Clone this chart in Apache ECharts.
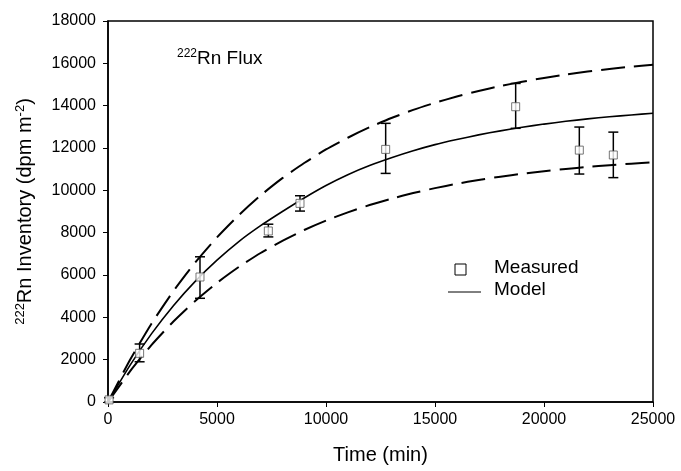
<!DOCTYPE html>
<html>
<head>
<meta charset="utf-8">
<script src="https://cdn.jsdelivr.net/npm/echarts@6/dist/echarts.min.js"></script>
<style>html,body{margin:0;padding:0;background:#fff;}#c{width:681px;height:471px;}</style>
</head>
<body>
<div id="c"></div>
<script>
// Measured data (time in min, inventory in dpm m^-2)
const measTime = [50, 1450, 4220, 7355, 8807, 12737, 18700, 21620, 23180];
const measValue = [100, 2300, 5905, 8080, 9385, 11935, 13950, 11900, 11670];
const measErrLow = [0, 1900, 4900, 7800, 9020, 10800, 12930, 10770, 10600];
const measErrHigh = [200, 2740, 6860, 8400, 9745, 13165, 15050, 12990, 12750];

// Model curves
const modelTime = [0, 1000, 2000, 3000, 4000, 5000, 6000, 7000, 8000, 9000, 10000, 11000, 12000, 13000,
  14000, 15000, 16000, 17000, 18000, 19000, 20000, 21000, 22000, 23000, 24000, 25000];
const modelMid = [0, 1720, 3230, 4550, 5700, 6700, 7580, 8330, 9000, 9640, 10230, 10740, 11170, 11540,
  11870, 12160, 12400, 12620, 12810, 12980, 13130, 13260, 13375, 13475, 13560, 13640];
const modelUpper = [0, 1970, 3710, 5240, 6590, 7780, 8830, 9760, 10575, 11290, 11930, 12485, 12980, 13415,
  13800, 14135, 14430, 14695, 14925, 15130, 15310, 15470, 15610, 15730, 15840, 15935];
const modelLower = [0, 1435, 2700, 3805, 4775, 5630, 6380, 7040, 7615, 8125, 8570, 8960, 9305, 9605,
  9870, 10105, 10310, 10490, 10645, 10785, 10905, 11010, 11105, 11185, 11260, 11320];

// Axis ticks
const xTicks = { min: 0, max: 25000, interval: 5000 };
const yTicks = { min: 0, max: 18000, interval: 2000 };

const pair = (xs, ys) => xs.map((x, i) => [x, ys[i]]);
const FONT = 'Liberation Sans, Arial, sans-serif';

const chart = echarts.init(document.getElementById('c'), null, { renderer: 'canvas' });
const option = {
  animation: false,
  backgroundColor: '#fff',
  grid: { left: 108, right: 28, top: 21, bottom: 69, show: true, borderColor: '#000', borderWidth: 1.5, backgroundColor: 'transparent' },
  xAxis: {
    type: 'value', min: xTicks.min, max: xTicks.max, interval: xTicks.interval,
    name: 'Time (min)', nameLocation: 'middle', nameGap: 43,
    nameTextStyle: { fontFamily: FONT, fontSize: 20, color: '#000' },
    axisLine: { show: true, onZero: false, lineStyle: { color: '#000', width: 1.5 } },
    axisTick: { show: true, inside: false, length: 5, lineStyle: { color: '#000' } },
    axisLabel: { fontFamily: FONT, fontSize: 16, color: '#000', margin: 10, formatter: v => String(v) },
    splitLine: { show: false }
  },
  yAxis: {
    type: 'value', min: yTicks.min, max: yTicks.max, interval: yTicks.interval,
    name: '{sup|222}Rn Inventory (dpm m{sup|-2})', nameLocation: 'middle', nameGap: 72,
    nameTextStyle: { fontFamily: FONT, fontSize: 20, color: '#000',
      rich: { sup: { fontFamily: FONT, fontSize: 13, color: '#000', verticalAlign: 'top', padding: [0, 0, 9, 0] } } },
    axisLine: { show: true, lineStyle: { color: '#000', width: 1.5 } },
    axisTick: { show: true, inside: false, length: 5, lineStyle: { color: '#000' } },
    axisLabel: { fontFamily: FONT, fontSize: 16, color: '#000', margin: 12, formatter: v => String(v) },
    splitLine: { show: false }
  },
  graphic: [
    { type: 'text', left: 177, top: 48, style: { text: '{sup|222}{b|Rn Flux}', fill: '#000',
        rich: { sup: { fontFamily: FONT, fontSize: 12, verticalAlign: 'top', padding: [0, 0, 9, 0] },
                b: { fontFamily: FONT, fontSize: 19 } } } },
    { type: 'rect', shape: { x: 455, y: 264, width: 11, height: 11 }, style: { fill: '#fff', stroke: '#000', lineWidth: 1 } },
    { type: 'line', shape: { x1: 448, y1: 292, x2: 481, y2: 292 }, style: { stroke: '#000', lineWidth: 1 } },
    { type: 'text', left: 494, top: 258, style: { text: 'Measured', fontFamily: FONT, fontSize: 19, fill: '#000' } },
    { type: 'text', left: 494, top: 280, style: { text: 'Model', fontFamily: FONT, fontSize: 19, fill: '#000' } }
  ],
  series: [
    { name: 'Model', type: 'line', data: pair(modelTime, modelMid), smooth: 0.2, symbol: 'none',
      lineStyle: { color: '#000', width: 1.6 }, z: 2 },
    { name: 'Upper', type: 'line', data: pair(modelTime, modelUpper), smooth: 0.2, symbol: 'none',
      lineStyle: { color: '#000', width: 2, type: [24, 9] }, z: 2 },
    { name: 'Lower', type: 'line', data: pair(modelTime, modelLower), smooth: 0.2, symbol: 'none',
      lineStyle: { color: '#000', width: 2, type: [24, 9] }, z: 2 },
    { name: 'ErrorBars', type: 'custom', z: 3,
      data: measTime.map((t, i) => [t, measErrLow[i], measErrHigh[i]]),
      renderItem: function (params, api) {
        const lo = api.coord([api.value(0), api.value(1)]);
        const hi = api.coord([api.value(0), api.value(2)]);
        const hw = 5;
        const st = { stroke: '#000', lineWidth: 1.5 };
        return { type: 'group', children: [
          { type: 'line', shape: { x1: lo[0], y1: lo[1], x2: hi[0], y2: hi[1] }, style: st },
          { type: 'line', shape: { x1: lo[0] - hw, y1: lo[1], x2: lo[0] + hw, y2: lo[1] }, style: st },
          { type: 'line', shape: { x1: hi[0] - hw, y1: hi[1], x2: hi[0] + hw, y2: hi[1] }, style: st }
        ] };
      }
    },
    { name: 'Measured', type: 'scatter', data: pair(measTime, measValue), symbol: 'rect', symbolSize: 8, z: 4,
      itemStyle: { color: '#fff', borderColor: '#555', borderWidth: 1 } }
  ]
};
chart.setOption(option);
</script>
</body>
</html>
